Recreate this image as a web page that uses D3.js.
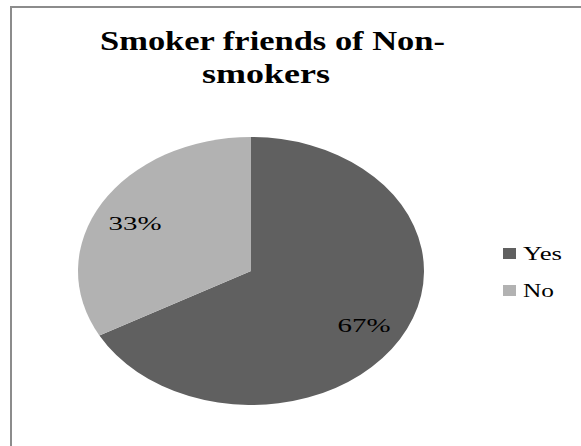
<!DOCTYPE html>
<html><head><meta charset="utf-8">
<script src="https://cdn.jsdelivr.net/npm/d3@7"></script>
<style>body{margin:0;background:#fff}svg{display:block}</style>
</head><body>
<script>
const categories = ["Yes", "No"];
const values = [67, 33];
const colors = ["#606060", "#b2b2b2"];
const titleLines = ["Smoker friends of Non-", "smokers"];

const W = 581, H = 446;
const svg = d3.select("body").append("svg").attr("width", W).attr("height", H);
svg.append("rect").attr("x", 11).attr("y", 7).attr("width", W + 10).attr("height", H + 10)
  .attr("fill", "#fff").attr("stroke", "#8c8c8c").attr("stroke-width", 2);

const font = "Liberation Serif, Tinos, Times New Roman, DejaVu Serif, serif";
const titleWidths = [345, 128];
svg.append("g").selectAll("text").data(titleLines).join("text")
  .attr("x", (d, i) => i === 0 ? 100 : 202).attr("y", (d, i) => 50 + i * 33)
  .attr("font-family", font).attr("font-weight", "bold")
  .attr("font-size", 27).attr("fill", "#000")
  .attr("textLength", (d, i) => titleWidths[i]).attr("lengthAdjust", "spacingAndGlyphs")
  .text(d => d);

const cx = 251, cy = 271, rx = 173, ry = 134;
const pie = d3.pie().sort(null).value(d => d)(values);
const arc = d3.arc().innerRadius(0).outerRadius(rx);
const g = svg.append("g").attr("transform", `translate(${cx},${cy}) scale(1,${ry / rx})`);
g.selectAll("path").data(pie).join("path").attr("d", arc).attr("fill", (d, i) => colors[i]);

const labelPos = [[364, 332], [135, 230]];
const lg = svg.append("g");
lg.selectAll("text").data(pie).join("text")
  .attr("x", (d, i) => labelPos[i][0])
  .attr("y", (d, i) => labelPos[i][1])
  .attr("text-anchor", "middle")
  .attr("font-family", font).attr("font-size", 19).attr("fill", "#000")
  .attr("textLength", 53).attr("lengthAdjust", "spacingAndGlyphs")
  .text(d => Math.round(d.value) + "%");

const legW = [39, 31];
const leg = svg.append("g").selectAll("g").data(categories).join("g")
  .attr("transform", (d, i) => `translate(503,${248 + i * 37})`);
leg.append("rect").attr("width", 13).attr("height", 11).attr("fill", (d, i) => colors[i]);
leg.append("text").attr("x", 20).attr("y", 12).attr("font-family", font).attr("font-size", 18)
  .attr("textLength", (d, i) => legW[i]).attr("lengthAdjust", "spacingAndGlyphs")
  .attr("fill", "#000").text(d => d);
</script>
</body></html>
